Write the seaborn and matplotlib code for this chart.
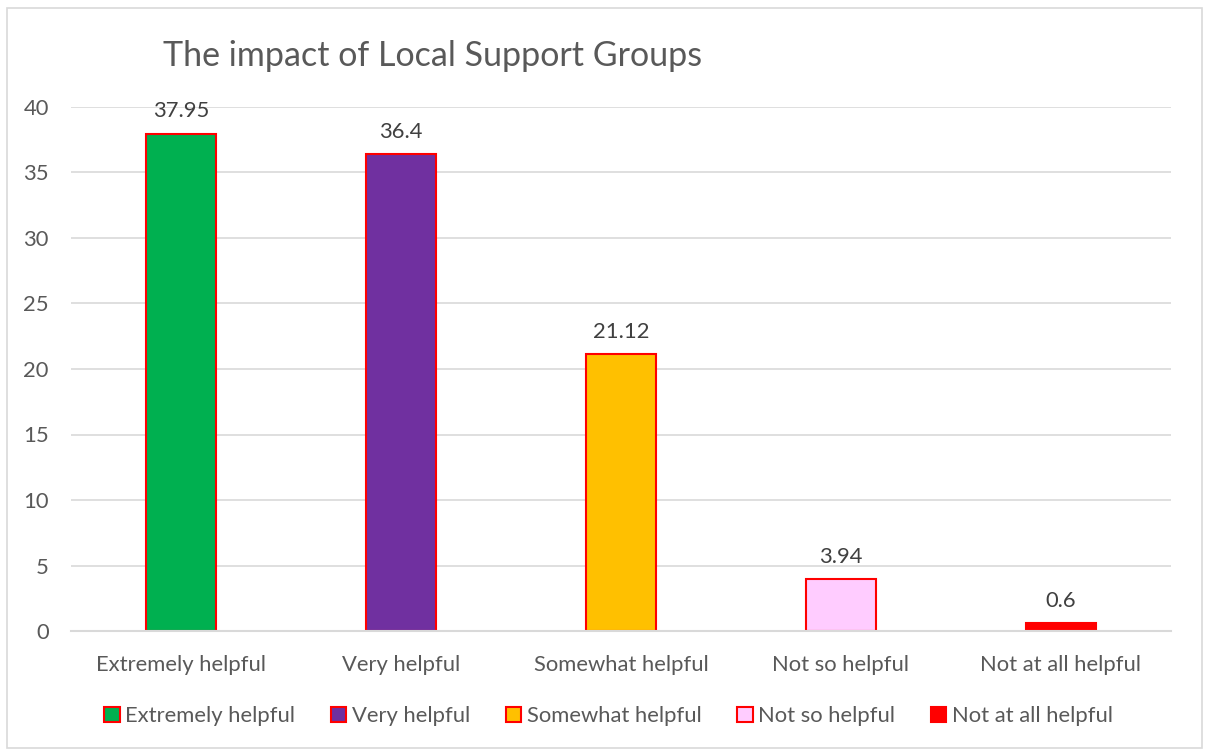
import matplotlib
matplotlib.use("Agg")
import matplotlib.pyplot as plt
from matplotlib.patches import Patch, Rectangle
import seaborn as sns
import pandas as pd

categories = ["Extremely helpful", "Very helpful", "Somewhat helpful",
              "Not so helpful", "Not at all helpful"]
values = [37.95, 36.4, 21.12, 3.94, 0.6]
value_labels = ["37.95", "36.4", "21.12", "3.94", "0.6"]
colors = ["#00B050", "#7030A0", "#FFC000", "#FFCCFF", "#FF0000"]
y_ticks = [0, 5, 10, 15, 20, 25, 30, 35, 40]
title = "The impact of Local Support Groups"

sns.set_theme(style="white")
plt.rcParams["font.family"] = ["Lato", "DejaVu Sans"]

text_color = "#595959"
grid_color = "#D9D9D9"
edge_red = "#FF0000"
fs = 15.8

W, H = 1205, 749
fig = plt.figure(figsize=(W / 100, H / 100), dpi=100)
ax = fig.add_axes([71 / W, (H - 631) / H, 1100 / W, 524 / H])

df = pd.DataFrame({"category": categories, "value": values})
sns.barplot(data=df, x="category", y="value", hue="category",
            palette=colors, order=categories, hue_order=categories,
            width=0.315, saturation=1, edgecolor=edge_red, linewidth=1.5,
            legend=False, ax=ax)

ax.set_ylim(0, 40)
ax.set_xlim(-0.5, len(categories) - 0.5)
ax.set_yticks(y_ticks)
ax.yaxis.grid(True, color=grid_color, linewidth=1.2)
ax.set_axisbelow(True)
for side in ["top", "right", "left"]:
    ax.spines[side].set_visible(False)
ax.spines["bottom"].set_color(grid_color)
ax.spines["bottom"].set_linewidth(1.5)
ax.tick_params(axis="both", length=0, labelsize=fs, labelcolor=text_color)
ax.tick_params(axis="y", pad=16)
ax.tick_params(axis="x", pad=17)
ax.set_xlabel("")
ax.set_ylabel("")

for i, (v, lab) in enumerate(zip(values, value_labels)):
    ax.annotate(lab, xy=(i, v), xytext=(0, 9), textcoords="offset points",
                ha="center", va="bottom", fontsize=fs, color="#404040")

fig.text(163 / W, 1 - 56 / H, title, ha="left", va="center",
         fontsize=24.5, color=text_color)

handles = [Patch(facecolor=c, edgecolor=edge_red, linewidth=1.5) for c in colors]
fig.legend(handles, categories, loc="center", bbox_to_anchor=(0.505, 1 - 716 / H),
           ncol=5, frameon=False, fontsize=fs, labelcolor=text_color,
           handlelength=0.7, handleheight=0.7, handletextpad=0.25,
           columnspacing=1.63)

fig.patches.append(Rectangle((7 / W, 1 / H), 1195 / W, 740 / H,
                             transform=fig.transFigure, fill=False,
                             edgecolor=grid_color, linewidth=1.2))

fig.savefig("out.png", dpi=100, facecolor="white")
